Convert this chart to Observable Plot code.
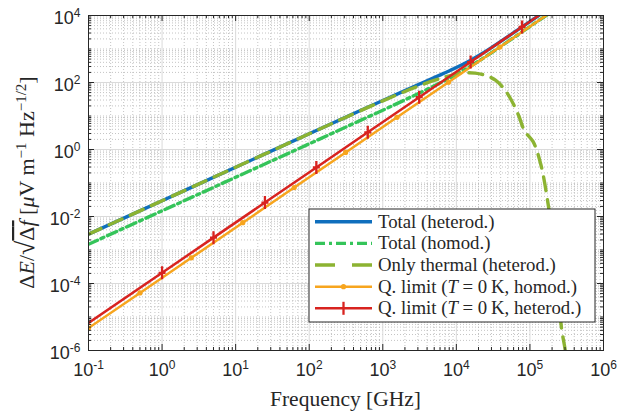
<!DOCTYPE html>
<html><head><meta charset="utf-8">
<script src="https://cdn.jsdelivr.net/npm/d3@7"></script>
<script src="https://cdn.jsdelivr.net/npm/@observablehq/plot@0.6"></script>
<style>html,body{margin:0;padding:0;background:#fff;}</style>
</head><body><div id="chart"></div>
<script>
// ---- data (frequency in GHz, ΔE/√Δf in µV m^-1 Hz^-1/2) ----
const totalHetF = [0.1, 1, 10, 100, 300, 1000, 2000, 3000, 5000, 7000, 10000, 15000, 20000, 30000, 50000, 100000, 200000];
const totalHetE = [2.95e-3, 0.0295, 0.295, 2.94, 8.81, 29.1, 57.4, 85.3, 140, 195, 281, 441, 630, 1099, 2339, 6607, 18690];

const totalHomF = [0.1, 1, 10, 100, 300, 1000, 2000, 3000, 5000, 7000, 10000, 15000, 20000, 30000, 50000, 100000, 200000];
const totalHomE = [1.48e-3, 0.0148, 0.148, 1.479, 4.46, 14.9, 30.3, 46.1, 79.4, 115, 175, 292, 432, 773, 1654, 4677, 13230];

const thermalF = [0.1, 1, 10, 100, 300, 1000, 2000, 3000, 5000, 7000, 10000, 14000, 18000, 25000, 34000, 45000, 56000, 70000, 85000, 110000, 140000, 176000, 219000, 269000, 302000, 320000];
const thermalE = [2.95e-3, 0.0295, 0.295, 2.94, 8.75, 28.3, 54, 77, 115, 145, 178, 196, 190, 163, 117, 63, 29.5, 10.5, 3.5, 1.74, 0.37, 0.025, 6.3e-4, 4.6e-6, 1e-6, 2.5e-7];

const qHomF = [0.1, 0.5, 2.5, 12.5, 62.5, 312.5, 1562.5, 7812.5, 39062.5, 200000];
const qHomE = [4.677e-6, 5.23e-5, 5.848e-4, 6.54e-3, 0.0731, 0.8177, 9.14, 102.2, 1143, 13230];

const qHetF = [0.1, 1, 5, 25, 125, 625, 3125, 15625, 78125, 200000];
const qHetE = [6.6e-6, 2.09e-4, 2.336e-3, 0.02612, 0.292, 3.266, 36.51, 408.3, 4565, 18690];

const xTickExp = [-1, 0, 1, 2, 3, 4, 5, 6];
const yTickExp = [-6, -4, -2, 0, 2, 4];

const seriesNames = ["Total (heterod.)", "Total (homod.)", "Only thermal (heterod.)", "Q. limit (T = 0 K, homod.)", "Q. limit (T = 0 K, heterod.)"];
const colors = {blue: "#0f6fbd", green: "#35c45a", olive: "#8cb332", orange: "#f7a51e", red: "#d8231f"};

// ---- build tables ----
const zip = (F, E) => F.map((f, i) => ({f, e: E[i]}));
const totalHet = zip(totalHetF, totalHetE);
const totalHom = zip(totalHomF, totalHomE);
const thermal = zip(thermalF, thermalE);
const qHom = zip(qHomF, qHomE);
const qHet = zip(qHetF, qHetE);
const qHomMarks = qHom.slice(0, -1);
const qHetMarks = qHet.slice(1, -1);

const majorX = xTickExp.map(k => Math.pow(10, k));
const majorY = yTickExp.map(k => Math.pow(10, k));
const minorX = [];
for (let k = -1; k < 6; k++) for (let m = 2; m <= 9; m++) minorX.push(m * Math.pow(10, k));
const minorY = [];
for (let k = -6; k < 4; k++) for (let m = 1; m <= 9; m++) { const v = m * Math.pow(10, k); if (!majorY.includes(v)) minorY.push(v); }

const W = 618, H = 414, mL = 88, mR = 15, mT = 15, mB = 64;
const fw = W - mL - mR, fh = H - mT - mB;
const sup = d => "10^" + Math.round(Math.log10(d));

// MATLAB-like "+" marker: tall vertical bar, short horizontal arms
const plusMarker = {
  draw(context) {
    context.moveTo(0, -6.5); context.lineTo(0, 6.5);
    context.moveTo(-3.5, 0); context.lineTo(3.5, 0);
  }
};

const chart = Plot.plot({
  width: W, height: H,
  marginLeft: mL, marginRight: mR, marginTop: mT, marginBottom: mB,
  x: {type: "log", domain: [0.1, 1e6], axis: null, label: null},
  y: {type: "log", domain: [1e-6, 1e4], axis: null, label: null},
  style: {fontFamily: "Liberation Sans, Arial, sans-serif", background: "white"},
  marks: [
    Plot.ruleX(minorX, {x: d => d, stroke: "#b5b5b5", strokeDasharray: "1,2", strokeWidth: 0.8}),
    Plot.ruleY(minorY, {y: d => d, stroke: "#b5b5b5", strokeDasharray: "1,2", strokeWidth: 0.8}),
    Plot.ruleX(majorX, {x: d => d, stroke: "#dadada", strokeWidth: 1}),
    Plot.ruleY(majorY, {y: d => d, stroke: "#dadada", strokeWidth: 1}),
    Plot.line(totalHet, {x: "f", y: "e", stroke: colors.blue, strokeWidth: 3.4, curve: "catmull-rom", clip: true}),
    Plot.line(totalHom, {x: "f", y: "e", stroke: colors.green, strokeWidth: 3.4, strokeDasharray: "10,4,3,4", curve: "catmull-rom", clip: true}),
    Plot.line(thermal, {x: "f", y: "e", stroke: colors.olive, strokeWidth: 3.4, strokeDasharray: "14,9", curve: "catmull-rom", clip: true}),
    Plot.line(qHom, {x: "f", y: "e", stroke: colors.orange, strokeWidth: 2.5, clip: true}),
    Plot.dot(qHomMarks, {x: "f", y: "e", r: 2.6, fill: colors.orange, stroke: "none", clip: true}),
    Plot.line(qHet, {x: "f", y: "e", stroke: colors.red, strokeWidth: 2.5, clip: true}),
    Plot.dot(qHetMarks, {x: "f", y: "e", symbol: plusMarker, fill: "none", stroke: colors.red, strokeWidth: 2.3, clip: true}),
    Plot.frame({stroke: "#262626", strokeWidth: 1}),
    // inward ticks
    Plot.ruleX(majorX, {x: d => d, insetTop: fh - 6, stroke: "#262626"}),
    Plot.ruleX(majorX, {x: d => d, insetBottom: fh - 6, stroke: "#262626"}),
    Plot.ruleX(minorX, {x: d => d, insetTop: fh - 3, stroke: "#262626"}),
    Plot.ruleX(minorX, {x: d => d, insetBottom: fh - 3, stroke: "#262626"}),
    Plot.ruleY(majorY, {y: d => d, insetRight: fw - 6, stroke: "#262626"}),
    Plot.ruleY(majorY, {y: d => d, insetLeft: fw - 6, stroke: "#262626"}),
    Plot.ruleY(minorY, {y: d => d, insetRight: fw - 3, stroke: "#262626"}),
    Plot.ruleY(minorY, {y: d => d, insetLeft: fw - 3, stroke: "#262626"}),
    Plot.axisX(majorX, {tickSize: 0, tickPadding: 13, tickFormat: sup, fontSize: 18, fill: "#262626", label: null}),
    Plot.axisY(majorY, {tickSize: 0, tickPadding: 8, tickFormat: sup, fontSize: 18, dy: 3, fill: "#262626", label: null})
  ]
});

document.getElementById("chart").appendChild(chart);
const svg = d3.select(chart);

// superscript tick labels
svg.selectAll("text").each(function() {
  const t = this.textContent;
  const m = /^10\^(-?\d+)$/.exec(t);
  if (!m) return;
  const el = d3.select(this);
  el.text(null);
  el.append("tspan").text("10");
  el.append("tspan").attr("dy", "-7").attr("font-size", 12).text(m[1]);
});

const serif = "Liberation Serif, Times New Roman, serif";

// x label
svg.append("text").attr("x", mL + fw / 2).attr("y", 406).attr("text-anchor", "middle")
  .attr("font-family", serif).attr("font-size", 21.5).attr("fill", "#262626").text("Frequency [GHz]");

// y label
const yl = svg.append("text").attr("transform", `translate(34,${mT + fh / 2}) rotate(-90)`)
  .attr("text-anchor", "middle").attr("font-family", serif).attr("font-size", 22).attr("fill", "#262626");
yl.append("tspan").text("Δ");
yl.append("tspan").attr("font-style", "italic").text("E");
yl.append("tspan").text("/");
yl.append("tspan").attr("font-size", 26).text("√");
const ov = yl.append("tspan").attr("text-decoration", "overline");
ov.append("tspan").text("Δ");
ov.append("tspan").attr("font-style", "italic").text("f");
yl.append("tspan").text(" [");
yl.append("tspan").attr("font-style", "italic").text("μ");
yl.append("tspan").text("V m");
yl.append("tspan").attr("dy", -8).attr("font-size", 15).text("−1");
yl.append("tspan").attr("dy", 8).text(" Hz");
yl.append("tspan").attr("dy", -8).attr("font-size", 15).text("−1/2");
yl.append("tspan").attr("dy", 8).text("]");

// legend
const lg = svg.append("g").attr("text-anchor", "start");
const lx0 = 309, ly0 = 209, lw = 286, lh = 113;
lg.append("rect").attr("x", lx0).attr("y", ly0).attr("width", lw).attr("height", lh)
  .attr("fill", "white").attr("stroke", "#262626").attr("stroke-width", 1);
const rows = [
  {c: colors.blue, dash: null, w: 3.4},
  {c: colors.green, dash: "10,4,3,4", w: 3.4},
  {c: colors.olive, dash: "20,17", w: 3.4},
  {c: colors.orange, dash: null, w: 2.5, dot: true},
  {c: colors.red, dash: null, w: 2.5, plus: true}
];
rows.forEach((r, i) => {
  const y = 221.7 + i * 21.65;
  const ln = lg.append("line").attr("x1", 315).attr("x2", 372).attr("y1", y).attr("y2", y)
    .attr("stroke", r.c).attr("stroke-width", r.w);
  if (r.dash) ln.attr("stroke-dasharray", r.dash);
  if (r.dot) lg.append("circle").attr("cx", 343.5).attr("cy", y).attr("r", 2.6).attr("fill", r.c);
  if (r.plus) {
    lg.append("line").attr("x1", 343.5).attr("x2", 343.5).attr("y1", y - 6.5).attr("y2", y + 6.5).attr("stroke", r.c).attr("stroke-width", 2.3);
  }
  const tx = lg.append("text").attr("x", 378).attr("y", y + 6).attr("text-anchor", "start")
    .attr("font-family", serif).attr("font-size", 18.8).attr("fill", "#262626");
  const name = seriesNames[i];
  if (name.includes("T = 0 K")) {
    const [a, b] = name.split("T = 0 K");
    tx.append("tspan").text(a);
    tx.append("tspan").attr("font-style", "italic").text("T");
    tx.append("tspan").text(" = 0\u2009K" + b);
  } else tx.text(name);
});
</script></body></html>
